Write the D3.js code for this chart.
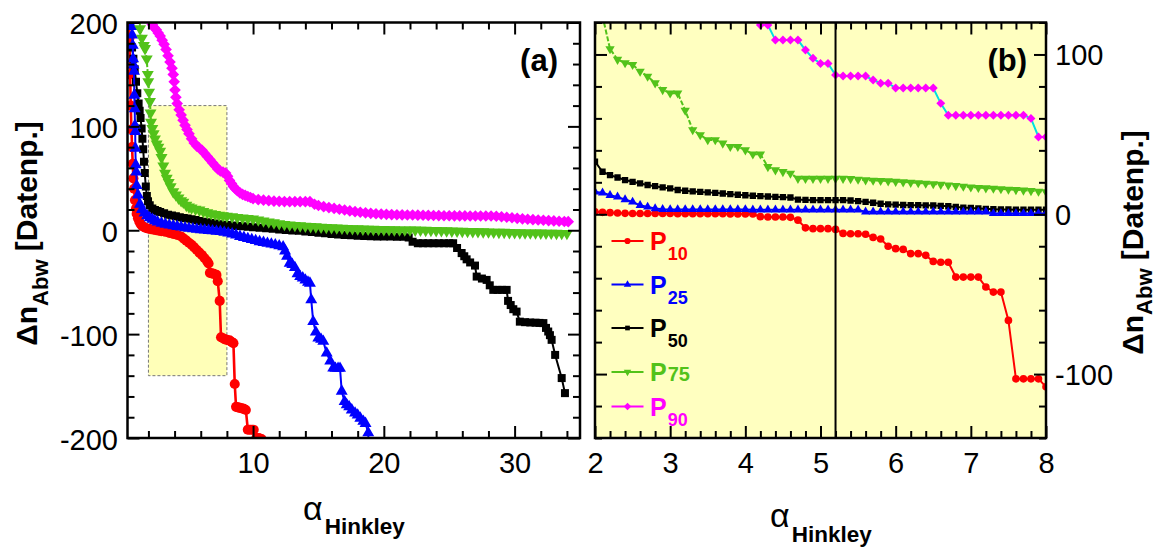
<!DOCTYPE html>
<html><head><meta charset="utf-8">
<script src="https://cdn.jsdelivr.net/npm/d3@7"></script>
<style>
body{margin:0;background:#fff}
svg{display:block}
text{font-family:"Liberation Sans",Arial,sans-serif}
</style>
</head><body>
<svg id="chart" width="1159" height="547"></svg>
<script>
// ---------------- DATA ----------------
const seriesNames = ["P10","P25","P50","P75","P90"];
const legendSubs  = ["10","25","50","75","90"];

// axis domains and ticks
const xDomainA = [0.4, 35], yDomainA = [-200, 200];
const xDomainB = [2, 8],    yDomainB = [-140, 120];
const xMajorA = [10, 20, 30];
const xMinorA = [2,4,6,8,12,14,16,18,22,24,26,28,32,34];
const yMajorA = [-200,-100,0,100,200];
const yMinorA = [-180,-160,-140,-120,-80,-60,-40,-20,20,40,60,80,120,140,160,180];
const xMajorB = [2,3,4,5,6,7,8];
const xMinorB = [2.2,2.4,2.6,2.8,3.2,3.4,3.6,3.8,4.2,4.4,4.6,4.8,5.2,5.4,5.6,5.8,6.2,6.4,6.6,6.8,7.2,7.4,7.6,7.8];
const yMajorB = [-100,0,100];
const yMinorB = [-140,-120,-80,-60,-40,-20,20,40,60,80,120];
const zoomBox = {x:[2,8], y:[-140,120]};   // highlighted region in (a) = range of (b)
const markerAlpha = 5.2;                   // vertical line in (b)

// Panel (a): [alpha, delta n] pairs
const aP10 = [[0.5,215],[0.55,185],[0.6,150],[0.65,120],[0.7,97],[0.75,80],[0.8,64],[0.85,50],[0.9,40],[0.97,29],[1.05,21],[1.1,16],[1.2,11.5],[1.3,8.5],[1.4,6],[1.5,4.5],[1.65,3.2],[1.8,2.2],[2.0,1.5],[2.2,1],[2.4,0.5],[2.6,0],[2.8,-0.5],[3.0,-1],[3.3,-1.5],[3.6,-2.5],[3.9,-3.5],[4.2,-4.5],[4.5,-6],[4.7,-8],[4.9,-10],[5.1,-12],[5.3,-14],[5.5,-16.5],[5.7,-19],[5.9,-21.5],[6.1,-24],[6.3,-27],[6.5,-30],[6.6,-32],[6.7,-41],[6.85,-41.5],[7.0,-42],[7.2,-43],[7.3,-49],[7.45,-68],[7.55,-103],[7.7,-104],[7.85,-105],[8.0,-105.5],[8.2,-106],[8.35,-107.5],[8.5,-108.7],[8.6,-148],[8.7,-170],[8.85,-170.5],[9.0,-171],[9.15,-171.5],[9.3,-172],[9.45,-173],[9.6,-192],[9.75,-192],[9.9,-192],[10.05,-192],[10.25,-200],[10.45,-200],[10.65,-201]];
const aP25 = [[0.65,215],[0.72,196],[0.76,188],[0.8,178],[0.83,165],[0.86,159],[0.9,153],[0.92,130],[0.95,117],[0.97,101],[0.99,95],[1.0,79],[1.03,63],[1.07,56],[1.1,43],[1.2,34],[1.35,25],[1.5,20],[1.7,16.5],[1.9,14],[2.1,12],[2.3,10.5],[2.5,9],[2.7,8],[3.0,6.8],[3.3,5.8],[3.6,5],[3.9,4.3],[4.2,3.6],[4.5,3],[4.8,2.3],[5.1,1.8],[5.4,1.3],[5.7,0.8],[6.0,0.5],[6.3,0.2],[6.6,-0.2],[6.9,-0.6],[7.2,-1],[7.5,-1.3],[7.8,-2],[8.1,-2.8],[8.4,-3.6],[8.7,-4.6],[9.0,-6],[9.3,-7],[9.6,-8],[9.9,-9],[10.2,-10],[10.5,-11],[10.8,-11.8],[11.1,-12.6],[11.4,-13.3],[11.7,-14],[12.0,-15],[12.3,-16],[12.45,-20],[12.6,-25],[12.8,-31.7],[13.0,-33],[13.2,-36],[13.4,-42],[13.6,-44.6],[13.8,-46],[14.0,-48],[14.2,-50],[14.35,-51],[14.45,-67],[14.6,-88],[14.8,-98],[14.99,-103.8],[15.2,-105],[15.37,-107],[15.63,-118.3],[15.9,-126],[16.13,-132.7],[16.3,-133],[16.5,-133],[16.65,-133],[16.78,-155],[17.0,-165],[17.16,-168],[17.35,-170],[17.55,-173],[17.8,-176],[18.0,-178],[18.2,-181],[18.43,-184],[18.6,-186],[18.81,-195],[18.85,-215]];
const aP50 = [[0.75,176],[0.85,165],[0.95,155],[1.05,143],[1.15,132],[1.25,122],[1.33,115],[1.4,108],[1.48,98],[1.54,88],[1.6,78],[1.66,66],[1.72,55],[1.8,42],[1.88,33],[1.97,28],[2.1,24],[2.3,21],[2.5,19.5],[2.7,18.5],[2.9,17.5],[3.2,16.3],[3.5,15],[3.8,14.2],[4.1,13.4],[4.4,12.6],[4.7,11.8],[5.0,11.2],[5.3,10.5],[5.6,9.8],[5.9,9.0],[6.2,8.3],[6.5,7.6],[6.8,7.0],[7.1,6.4],[7.4,5.8],[7.7,5.4],[8.0,5.0],[8.4,4.6],[8.8,4.2],[9.2,3.8],[9.6,3.4],[10.0,3.0],[10.5,2.5],[11.0,2.0],[11.5,1.4],[12.0,0.8],[12.5,0.3],[13.0,-0.2],[13.5,-0.6],[14.0,-1.2],[14.5,-1.8],[15.0,-2.4],[15.5,-3.0],[16.0,-3.5],[16.5,-4.0],[17.0,-4.5],[17.5,-4.9],[18.0,-5.2],[18.5,-5.5],[19.0,-5.7],[19.5,-5.9],[20.0,-6.0],[20.5,-6.1],[21.0,-6.2],[21.5,-6.2],[21.9,-7],[22.2,-11],[22.6,-12.5],[23.0,-12.5],[23.4,-12.5],[23.8,-12.5],[24.2,-12.5],[24.6,-12.5],[25.0,-12.5],[25.3,-12.5],[25.6,-17],[25.95,-22],[26.15,-25],[26.33,-28],[26.6,-31],[26.97,-34],[27.1,-44.6],[27.5,-46.5],[27.86,-47.8],[28.1,-53],[28.37,-57.4],[28.7,-57.4],[29.05,-57.4],[29.39,-57.4],[29.5,-68],[29.7,-72],[29.9,-76],[30.15,-78.3],[30.4,-88],[30.8,-88.5],[31.2,-88.8],[31.6,-89],[31.9,-89.2],[32.2,-89.4],[32.4,-94],[32.57,-97.5],[32.7,-101],[32.83,-105.5],[33.1,-120],[33.6,-142.3],[33.85,-156.8]];
const aP75 = [[1.3,215],[1.36,194],[1.5,185],[1.65,178],[1.74,175],[1.87,165],[1.95,150],[1.99,143],[2.05,133],[2.12,124],[2.16,113],[2.2,104],[2.3,98],[2.4,93],[2.5,88],[2.63,83],[2.76,80],[2.9,76],[3.0,70],[3.14,62],[3.27,55],[3.4,50],[3.55,46],[3.7,42],[3.9,37],[4.1,34],[4.3,31],[4.5,28.5],[4.67,27],[4.9,24],[5.1,22.5],[5.3,21.5],[5.6,20.3],[5.9,19.5],[6.2,18],[6.5,17],[6.8,16],[7.1,15.2],[7.4,14.5],[7.7,14],[8.0,13.5],[8.4,13],[8.8,12.3],[9.2,11.8],[9.6,11.3],[10.0,10.8],[10.4,10.0],[10.8,9.0],[11.2,8.0],[11.6,7.2],[12.0,6.3],[12.4,5.6],[12.8,5.1],[13.2,4.7],[13.6,4.3],[14.0,3.9],[14.4,3.6],[14.8,3.3],[15.2,3.0],[15.6,2.7],[16.0,2.5],[16.4,2.2],[16.8,2.0],[17.2,1.8],[17.6,1.6],[18.0,1.4],[18.4,1.2],[18.8,1.0],[19.2,0.9],[19.6,0.8],[20.0,0.7],[20.4,0.6],[20.8,0.5],[21.2,0.4],[21.6,0.3],[22.0,0.3],[22.4,0.2],[22.8,0.1],[23.2,0],[23.6,-0.2],[24.0,-0.3],[24.4,-0.4],[24.8,-0.5],[25.2,-0.7],[25.6,-0.8],[26.0,-1.0],[26.4,-1.1],[26.8,-1.2],[27.2,-1.4],[27.6,-1.5],[28.0,-1.6],[28.4,-1.8],[28.8,-1.9],[29.2,-2.0],[29.6,-2.2],[30.0,-2.3],[30.4,-2.4],[30.8,-2.5],[31.2,-2.6],[31.6,-2.6],[32.0,-2.7],[32.4,-2.8],[32.8,-2.8],[33.2,-2.9],[33.6,-3.0],[34.0,-3.0]];
const aP90 = [[2.2,203],[2.3,198],[2.45,195],[2.6,193],[2.75,190],[2.9,187],[3.05,183],[3.2,179],[3.35,174],[3.5,168],[3.65,162],[3.8,156],[3.9,150],[3.97,143],[4.03,135],[4.1,128],[4.2,122],[4.35,116],[4.5,111],[4.65,106],[4.8,101],[4.95,97],[5.1,93],[5.3,88],[5.5,84],[5.7,81],[5.9,79],[6.1,77],[6.3,74],[6.5,71],[6.7,68],[6.9,65],[7.1,62],[7.3,59],[7.5,57],[7.7,56],[7.9,55],[8.05,52],[8.2,48],[8.35,45],[8.5,42],[8.65,40],[8.8,38],[9.0,36],[9.2,34.5],[9.4,33.5],[9.6,32.5],[9.8,31.5],[10.0,30.5],[10.4,29.5],[10.8,29],[11.2,28.5],[11.6,28],[12.0,27.8],[12.4,27.6],[12.8,27.5],[13.2,27.5],[13.6,27.5],[14.0,27.5],[14.35,27.5],[14.7,25],[15.0,23.8],[15.4,22.7],[15.8,21.8],[16.2,21],[16.6,20.2],[17.0,19.5],[17.4,18.6],[17.8,17.9],[18.2,17.3],[18.6,16.8],[19.0,16.3],[19.4,15.9],[19.8,15.6],[20.2,15.3],[20.6,15.1],[21.0,14.9],[21.4,14.8],[21.8,14.7],[22.2,14.7],[22.6,14.5],[23.0,14.4],[23.4,14.3],[23.8,14.2],[24.2,14.1],[24.6,14.0],[25.0,14.0],[25.4,13.9],[25.8,13.8],[26.2,13.8],[26.6,13.7],[27.0,13.7],[27.4,13.7],[27.8,13.7],[28.2,13.7],[28.6,13.5],[29.0,13.0],[29.4,12.5],[29.8,12.0],[30.2,11.5],[30.6,11.0],[31.0,10.6],[31.4,10.2],[31.8,9.9],[32.2,9.6],[32.6,9.3],[33.0,9.0],[33.4,8.7],[33.8,8.4],[34.1,8.3]];

// Panel (b): alpha grid and values
const alphaB = [2.0,2.1,2.2,2.3,2.4,2.5,2.6,2.7,2.8,2.9,3.0,3.1,3.2,3.3,3.4,3.5,3.6,3.7,3.8,3.9,4.0,4.1,4.2,4.3,4.4,4.5,4.6,4.7,4.8,4.9,5.0,5.1,5.2,5.3,5.4,5.5,5.6,5.7,5.8,5.9,6.0,6.1,6.2,6.3,6.4,6.5,6.6,6.7,6.8,6.9,7.0,7.1,7.2,7.3,7.4,7.5,7.6,7.7,7.8,7.9,8.0];
const bP10 = [1.5,1.2,1.0,0.8,0.6,0.5,0.5,0.5,0.5,0.5,0.5,0.4,0.4,0.4,0.4,0.3,0.3,0.3,0.2,0.2,0.2,0.2,-1.5,-1.7,-1.7,-1.7,-1.9,-3.7,-8.5,-9,-9,-9,-9.5,-12,-12.2,-12.2,-12.5,-14.5,-15.5,-20,-21.5,-22,-24.6,-24.6,-25.7,-29.5,-30,-30,-39.3,-39.3,-39.3,-39.3,-45.5,-48.7,-48.7,-66.4,-103,-103,-103,-103,-108];
const bP25 = [14,13.4,11.9,10.9,9.2,7.7,5.6,4.6,3.6,3.1,3.0,3.0,3.0,3.0,3.0,3.0,3.0,3.0,3.0,3.0,3.0,2.8,2.8,2.8,2.8,2.8,2.8,2.8,2.8,2.8,2.8,2.8,2.8,2.8,2.8,2.8,1.5,1.5,1.5,1.5,1.5,1.5,1.5,1.5,1.5,1.5,1.5,1.5,1.5,1.5,1.5,1.5,1.5,0.5,0.5,0.5,0.5,0.5,0.5,0.5,0.5];
const bP50 = [32.9,26.6,24.5,23,21.4,20.3,19.3,18.3,17.6,16.8,16.2,15.2,14.7,14.3,14.0,13.7,13.4,13.0,12.6,12.2,11.9,11.6,11.3,11.1,10.9,10.7,10.5,9.2,9.0,8.8,8.8,8.8,8.8,8.8,8.6,8.2,7.8,7.2,6.6,6.2,6.0,5.8,5.7,5.7,5.6,5.5,5.3,5.0,4.6,4.2,3.9,3.6,3.4,3.2,3.0,3.0,2.9,2.9,2.9,2.9,2.9];
const bP75 = [150,124,103.5,96.8,94.7,93.6,89.4,86.3,82.1,77.9,75.8,75.8,65,52.8,49.7,46.5,46.5,44.4,42.3,42.3,40.2,37.6,37.6,29.7,27.7,26.6,25.6,22.4,22.4,22.4,22.4,22.4,22.4,22.4,22.2,21.8,21.4,21.2,21.0,20.8,20.5,20.2,19.9,19.6,19.3,19.0,18.6,18.2,17.8,17.4,17.0,16.7,16.4,16.2,15.9,15.6,15.3,15.0,14.7,14.3,14.0];
const bP90 = [205,201,197,193,189,185,181,177,173,169,165,161,157,153,149,145,141,137,133,130,127,124,118.4,118.4,109,109,109,109,102.8,97.6,94.4,94.4,87.1,86.5,86.5,86.5,86.5,84,82,82,79,79,79,79,79,79,69.4,62,62,62,62,62,62,62,62,62,62,62,60,48.4,48.4];

// ---------------- STYLES ----------------
const styles = {
  P10:{color:"#ff0000", line:"#ff0000", type:d3.symbolCircle,   rot:0,   dash:null},
  P25:{color:"#0000ff", line:"#0000ff", type:d3.symbolTriangle, rot:0,   dash:null},
  P50:{color:"#000000", line:"#000000", type:d3.symbolSquare,   rot:0,   dash:null},
  P75:{color:"#52c21a", line:"#52c21a", type:d3.symbolTriangle, rot:180, dash:"5,2"},
  P90:{color:"#ff00ff", line:"#00e0e0", type:d3.symbolSquare,   rot:45,  dash:null}
};
const sizeA = {P10:80, P25:62, P50:64, P75:62, P90:68};
const sizeB = {P10:46, P25:36, P50:40, P75:38, P90:40};
const drawOrder = ["P10","P50","P25","P75","P90"];

const svg = d3.select("#chart");
const FONT = '"Liberation Sans",Arial,sans-serif';
const PA = {x0:127.5, x1:580, y0:22.5, y1:438};
const PB = {x0:595, x1:1046, y0:22.5, y1:438};

const xA = d3.scaleLinear().domain(xDomainA).range([PA.x0, PA.x1]);
const yA = d3.scaleLinear().domain(yDomainA).range([PA.y1, PA.y0]);
const xB = d3.scaleLinear().domain(xDomainB).range([PB.x0, PB.x1]);
const yB = d3.scaleLinear().domain(yDomainB).range([PB.y1, PB.y0]);

const defs = svg.append("defs");
function clip(id, P){
  defs.append("clipPath").attr("id", id).append("rect")
    .attr("x", P.x0).attr("y", P.y0).attr("width", P.x1-P.x0).attr("height", P.y1-P.y0);
}
clip("clipA", PA); clip("clipB", PB);

// backgrounds
svg.append("rect").attr("x",PB.x0).attr("y",PB.y0).attr("width",PB.x1-PB.x0).attr("height",PB.y1-PB.y0)
  .attr("fill","#ffffc0");
svg.append("rect")
  .attr("x", xA(zoomBox.x[0])).attr("y", yA(zoomBox.y[1]))
  .attr("width", xA(zoomBox.x[1])-xA(zoomBox.x[0]))
  .attr("height", yA(zoomBox.y[0])-yA(zoomBox.y[1]))
  .attr("fill","#ffffb8").attr("stroke","#777").attr("stroke-width",1).attr("stroke-dasharray","3,2");

function drawSeries(g, pts, x, y, name, size, lw){
  const s = styles[name];
  const line = d3.line().x(d=>x(d[0])).y(d=>y(d[1]));
  g.append("path").attr("d", line(pts)).attr("fill","none")
    .attr("stroke", s.line).attr("stroke-width", lw)
    .attr("stroke-dasharray", s.dash);
  const sym = d3.symbol().type(s.type).size(size);
  g.append("g").selectAll("path").data(pts).join("path")
    .attr("transform", d=>`translate(${x(d[0])},${y(d[1])}) rotate(${s.rot})`)
    .attr("d", sym).attr("fill", s.color);
}

// Panel (a)
const dataA = {P10:aP10, P25:aP25, P50:aP50, P75:aP75, P90:aP90};
const gA = svg.append("g").attr("clip-path","url(#clipA)");
drawOrder.forEach(n => drawSeries(gA, dataA[n], xA, yA, n, sizeA[n], n==="P10"?2.6:2));

// Panel (b)
const dataB = {P10:bP10, P25:bP25, P50:bP50, P75:bP75, P90:bP90};
const gB = svg.append("g").attr("clip-path","url(#clipB)");
drawOrder.forEach(n => drawSeries(gB, alphaB.map((a,i)=>[a, dataB[n][i]]), xB, yB, n, sizeB[n], 2));
gB.append("line").attr("x1", xB(markerAlpha)).attr("x2", xB(markerAlpha))
  .attr("y1", PB.y0).attr("y2", PB.y1).attr("stroke","#000").attr("stroke-width",2);

// Axes helper
const fmtPlain = d => String(d);   // plain hyphen-minus as in the original
function axis(fn, scale, values, size, translate, labels, pad){
  const ax = fn(scale).tickValues(values).tickSize(size).tickPadding(pad||0)
    .tickFormat(labels ? fmtPlain : "");
  const g = svg.append("g").attr("transform", translate).call(ax);
  g.select(".domain").remove();
  g.attr("font-family", FONT).attr("font-size", 29);
  g.selectAll(".tick line").attr("stroke","#000").attr("stroke-width",2);
  g.selectAll(".tick text").attr("fill","#000");
  return g;
}
const MAJ = -12, MIN = -7;
// (a) bottom / top
axis(d3.axisBottom, xA, xMajorA, MAJ, `translate(0,${PA.y1})`, true, 14.5);
axis(d3.axisBottom, xA, xMinorA, MIN, `translate(0,${PA.y1})`, false);
axis(d3.axisTop, xA, xMajorA, MAJ, `translate(0,${PA.y0})`, false);
axis(d3.axisTop, xA, xMinorA, MIN, `translate(0,${PA.y0})`, false);
// (a) left / right
const gyA = axis(d3.axisLeft, yA, yMajorA, MAJ, `translate(${PA.x0},0)`, true, 9.5);
gyA.selectAll(".tick text").attr("dy","0.38em");
axis(d3.axisLeft, yA, yMinorA, MIN, `translate(${PA.x0},0)`, false);
axis(d3.axisRight, yA, yMajorA, MAJ, `translate(${PA.x1},0)`, false);
axis(d3.axisRight, yA, yMinorA, MIN, `translate(${PA.x1},0)`, false);
// (b) bottom / top
axis(d3.axisBottom, xB, xMajorB, MAJ, `translate(0,${PB.y1})`, true, 14);
axis(d3.axisBottom, xB, xMinorB, MIN, `translate(0,${PB.y1})`, false);
axis(d3.axisTop, xB, xMajorB, MAJ, `translate(0,${PB.y0})`, false);
axis(d3.axisTop, xB, xMinorB, MIN, `translate(0,${PB.y0})`, false);
// (b) left / right
axis(d3.axisLeft, yB, yMajorB, MAJ, `translate(${PB.x0},0)`, false);
axis(d3.axisLeft, yB, yMinorB, MIN, `translate(${PB.x0},0)`, false);
const gyB = axis(d3.axisRight, yB, yMajorB, MAJ, `translate(${PB.x1},0)`, true, 9);
gyB.selectAll(".tick text").attr("dy","0.35em");
axis(d3.axisRight, yB, yMinorB, MIN, `translate(${PB.x1},0)`, false);

// frames
[PA, PB].forEach(P => svg.append("rect").attr("x",P.x0).attr("y",P.y0)
  .attr("width",P.x1-P.x0).attr("height",P.y1-P.y0)
  .attr("fill","none").attr("stroke","#000").attr("stroke-width",2.5));

// panel labels
svg.append("text").attr("x",558).attr("y",71).attr("text-anchor","end")
  .attr("font-size",31).attr("font-weight","bold").text("(a)");
svg.append("text").attr("x",1027).attr("y",71).attr("text-anchor","end")
  .attr("font-size",31).attr("font-weight","bold").text("(b)");

// axis titles
function xTitle(x, y, dy){
  const t = svg.append("text").attr("x",x).attr("y",y);
  t.append("tspan").attr("font-size",34).text("α");
  t.append("tspan").attr("font-size",22.5).attr("font-weight","bold").attr("dy",dy).attr("dx",2).text("Hinkley");
}
xTitle(303, 520, 14);
xTitle(770, 527, 15);

function yTitle(x, y, sub){
  const t = svg.append("text").attr("transform",`translate(${x},${y}) rotate(-90)`)
    .attr("text-anchor","middle").attr("font-weight","bold");
  t.append("tspan").attr("font-size",30).text("Δn");
  t.append("tspan").attr("font-size",22).attr("dy",sub).text("Abw");
  t.append("tspan").attr("font-size",30).attr("dy",-sub).text(" [Datenp.]");
}
yTitle(37, 233.5, 11);
yTitle(1143, 242.5, 9);

// legend
const legY = [241, 284.5, 328, 372, 406.5];
const legSize = {P10:30, P25:24, P50:22, P75:24, P90:28};
seriesNames.forEach((n,i) => {
  const s = styles[n], y = legY[i];
  svg.append("line").attr("x1",611.5).attr("x2",643.5).attr("y1",y).attr("y2",y)
    .attr("stroke", s.color).attr("stroke-width",2.2);
  svg.append("path").attr("transform",`translate(627.5,${y}) rotate(${s.rot})`)
    .attr("d", d3.symbol().type(s.type).size(legSize[n])).attr("fill", s.color);
  const t = svg.append("text").attr("x",650).attr("y",y+9).attr("fill",s.color).attr("font-weight","bold");
  t.append("tspan").attr("font-size",25).text("P");
  t.append("tspan").attr("font-size", n==="P75"?20:18).attr("dy", n==="P75"?0:10).attr("dx",1).text(legendSubs[i]);
});
</script>
</body></html>
